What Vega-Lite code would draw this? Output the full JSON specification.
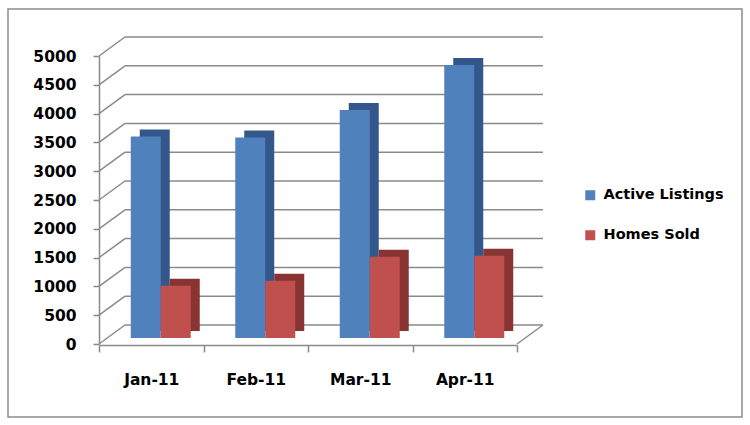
{
  "$schema": "https://vega.github.io/schema/vega-lite/v6.json",
  "width": 734,
  "height": 408,
  "autosize": {"type": "none"},
  "padding": {"left": 8, "top": 9, "right": 8, "bottom": 8},
  "background": "white",
  "config": {
    "view": {"stroke": "#8c8c8c", "strokeWidth": 1.5},
    "font": "DejaVu Sans",
    "axisX": {"title": null, "offset": -72, "domain": true, "domainColor": "#8a8a8a", "domainWidth": 1.5, "grid": false, "tickBand": "extent", "tickSize": 7, "tickColor": "#8a8a8a", "tickWidth": 1.5, "labelPadding": 20, "labelAngle": 0, "labelFont": "DejaVu Sans", "labelFontSize": 15.5, "labelFontWeight": "bold", "labelColor": "#000000"},
    "axisY": {"title": null, "offset": -91, "format": "d", "domain": true, "domainColor": "#8a8a8a", "domainWidth": 1.5, "grid": false, "tickCount": 10, "tickSize": 6, "tickColor": "#8a8a8a", "tickWidth": 1.5, "labelPadding": 17, "labelFont": "DejaVu Sans", "labelFontSize": 15.5, "labelFontWeight": "bold", "labelColor": "#000000"}
  },
  "datasets": {
    "sales": [
      {"month": "Jan-11", "series": "Active Listings", "value": 3500},
      {"month": "Jan-11", "series": "Homes Sold", "value": 905},
      {"month": "Feb-11", "series": "Active Listings", "value": 3480},
      {"month": "Feb-11", "series": "Homes Sold", "value": 995},
      {"month": "Mar-11", "series": "Active Listings", "value": 3960},
      {"month": "Mar-11", "series": "Homes Sold", "value": 1410},
      {"month": "Apr-11", "series": "Active Listings", "value": 4740},
      {"month": "Apr-11", "series": "Homes Sold", "value": 1430}
    ],
    "grid": [
      {"v": 0}, {"v": 500}, {"v": 1000}, {"v": 1500}, {"v": 2000}, {"v": 2500},
      {"v": 3000}, {"v": 3500}, {"v": 4000}, {"v": 4500}, {"v": 5000}
    ]
  },
  "layer": [
    {
      "data": {"name": "grid"},
      "mark": {"type": "rule", "color": "#8a8a8a", "strokeWidth": 1.5, "xOffset": 26, "x2Offset": 26, "yOffset": -19},
      "encoding": {
        "x": {"datum": "Jan-11", "type": "nominal", "bandPosition": 0, "title": null,
              "scale": {"type": "band", "domain": ["Jan-11", "Feb-11", "Mar-11", "Apr-11"], "range": [91, 509], "paddingInner": 0, "paddingOuter": 0}},
        "x2": {"datum": "Apr-11", "bandPosition": 1},
        "y": {"field": "v", "type": "quantitative", "title": null,
              "scale": {"domain": [0, 5000], "range": [335, 47], "nice": false, "zero": true}}
      }
    },
    {
      "data": {"name": "grid"},
      "mark": {"type": "rule", "color": "#8a8a8a", "strokeWidth": 1.5, "x2Offset": 26, "y2Offset": -19},
      "encoding": {
        "x": {"datum": "Jan-11", "type": "nominal", "bandPosition": 0, "title": null},
        "x2": {"datum": "Jan-11", "bandPosition": 0},
        "y": {"field": "v", "type": "quantitative", "title": null},
        "y2": {"field": "v"}
      }
    },
    {
      "data": {"name": "grid"},
      "transform": [{"filter": "datum.v == 0"}],
      "mark": {"type": "rule", "color": "#8a8a8a", "strokeWidth": 1.5, "x2Offset": 26, "y2Offset": -19},
      "encoding": {
        "x": {"datum": "Apr-11", "type": "nominal", "bandPosition": 1, "title": null},
        "x2": {"datum": "Apr-11", "bandPosition": 1},
        "y": {"field": "v", "type": "quantitative", "title": null},
        "y2": {"field": "v"}
      }
    },
    {
      "data": {"name": "sales"},
      "transform": [{"filter": "datum.series == 'Active Listings'"}],
      "mark": {"type": "bar", "color": "#33578a", "width": {"band": 0.287}, "xOffset": 3.5, "yOffset": -13, "y2Offset": -13},
      "encoding": {
        "x": {"field": "month", "type": "nominal", "title": null},
        "y": {"field": "value", "type": "quantitative", "title": null},
        "y2": {"datum": 0}
      }
    },
    {
      "data": {"name": "sales"},
      "transform": [{"filter": "datum.series == 'Homes Sold'"}],
      "mark": {"type": "bar", "color": "#873432", "width": {"band": 0.287}, "xOffset": 33.5, "yOffset": -13, "y2Offset": -13},
      "encoding": {
        "x": {"field": "month", "type": "nominal", "title": null},
        "y": {"field": "value", "type": "quantitative", "title": null},
        "y2": {"datum": 0}
      }
    },
    {
      "data": {"name": "sales"},
      "transform": [{"filter": "datum.series == 'Active Listings'"}],
      "mark": {"type": "bar", "width": {"band": 0.287}, "xOffset": -5.5, "yOffset": -6, "y2Offset": -6},
      "encoding": {
        "x": {"field": "month", "type": "nominal", "title": null},
        "y": {"field": "value", "type": "quantitative", "title": null},
        "y2": {"datum": 0},
        "color": {"field": "series", "type": "nominal",
                  "scale": {"domain": ["Active Listings", "Homes Sold"], "range": ["#4f81bd", "#c0504d"]},
                  "legend": {"orient": "none", "legendX": 575, "legendY": 179, "title": null, "symbolType": "square", "symbolSize": 100, "symbolStrokeWidth": 0, "labelFont": "DejaVu Sans", "labelFontSize": 14.5, "labelFontWeight": "bold", "labelColor": "#000000", "labelOffset": 6, "rowPadding": 25, "padding": 0}}
      }
    },
    {
      "data": {"name": "sales"},
      "transform": [{"filter": "datum.series == 'Homes Sold'"}],
      "mark": {"type": "bar", "width": {"band": 0.287}, "xOffset": 24.5, "yOffset": -6, "y2Offset": -6},
      "encoding": {
        "x": {"field": "month", "type": "nominal", "title": null},
        "y": {"field": "value", "type": "quantitative", "title": null},
        "y2": {"datum": 0},
        "color": {"field": "series", "type": "nominal"}
      }
    }
  ]
}
